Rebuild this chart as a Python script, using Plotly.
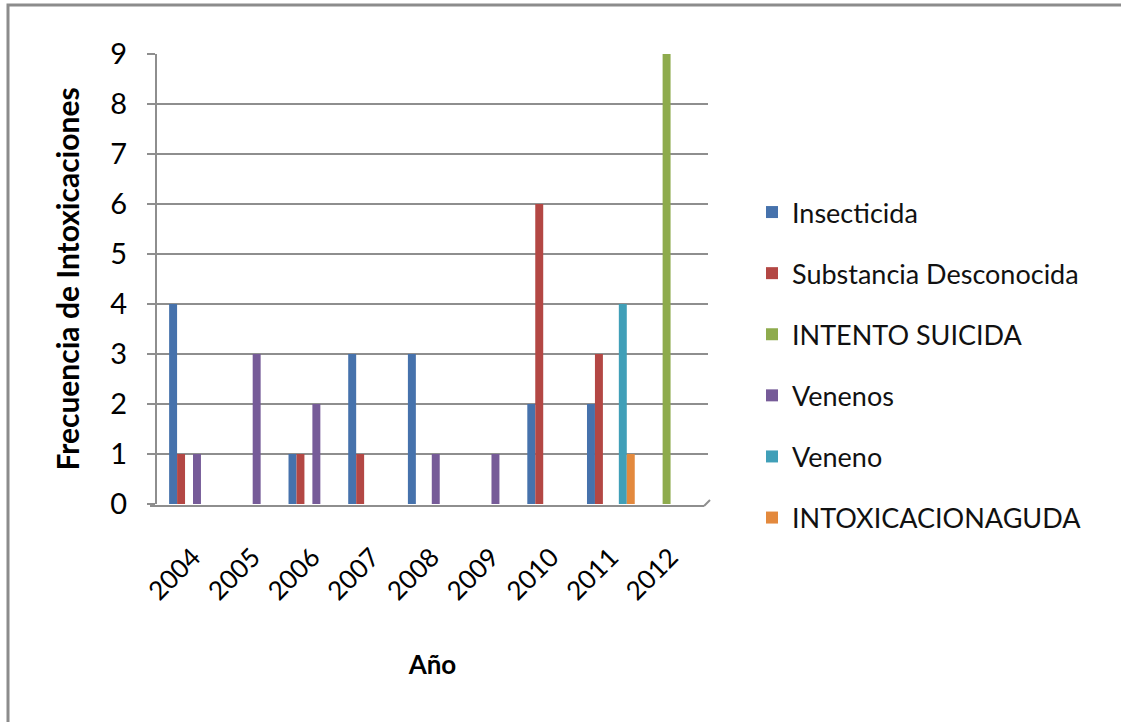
import plotly.graph_objects as go

# Intoxication counts per year, by category
years = ["2004", "2005", "2006", "2007", "2008", "2009", "2010", "2011", "2012"]
insecticida = [4, 0, 1, 3, 3, 0, 2, 2, 0]
substancia_desconocida = [1, 0, 1, 1, 0, 0, 6, 3, 0]
intento_suicida = [0, 0, 0, 0, 0, 0, 0, 0, 9]
venenos = [1, 3, 2, 0, 1, 1, 0, 0, 0]
veneno = [0, 0, 0, 0, 0, 0, 0, 4, 0]
intoxicacion_aguda = [0, 0, 0, 0, 0, 0, 0, 1, 0]

series = [
    ("Insecticida", insecticida, "#4672AC"),
    ("Substancia Desconocida", substancia_desconocida, "#B34744"),
    ("INTENTO SUICIDA", intento_suicida, "#8EAB4D"),
    ("Venenos", venenos, "#765B98"),
    ("Veneno", veneno, "#409FB8"),
    ("INTOXICACIONAGUDA", intoxicacion_aguda, "#E3893D"),
]

W, H = 1121, 722
L, R, T, B = 157, 708, 54, 504  # plot area in pixels
pw, ph = R - L, B - T

def px_x(p):
    return (p - L) / pw

def px_y(p):
    return (B - p) / ph

FONT = "Lato, Open Sans, sans-serif"

fig = go.Figure()
for i, (name, vals, col) in enumerate(series):
    fig.add_trace(go.Bar(
        x=years, y=vals, name=name,
        marker=dict(color=col, line=dict(width=0)),
        legendgroup=str(i),
    ))

fig.update_layout(
    width=W, height=H,
    margin=dict(l=L, r=W - R, t=T, b=H - B, pad=0),
    paper_bgcolor="white", plot_bgcolor="white",
    barmode="group", bargap=0.2, bargroupgap=0,
    font=dict(family=FONT, color="#000000"),
    showlegend=True,
    legend=dict(
        x=px_x(752), y=px_y(188), xanchor="left", yanchor="top",
        font=dict(size=27, family=FONT, color="#111111"),
        tracegroupgap=23, itemwidth=30,
        bgcolor="rgba(0,0,0,0)",
    ),
    xaxis=dict(
        type="category", range=[-0.603, 8.627],
        showgrid=False, showline=False, zeroline=False,
        ticks="", tickangle=-45, ticklabelstandoff=32,
        tickfont=dict(size=26, family=FONT, color="#000000"),
        title=dict(text="<b>Año</b>", font=dict(size=26, family=FONT), standoff=50),
    ),
    yaxis=dict(
        range=[0, 9], dtick=1,
        showgrid=True, gridcolor="#8E8E8E", gridwidth=2,
        showline=True, linecolor="#8E8E8E", linewidth=2,
        ticks="outside", ticklen=8, tickcolor="#8E8E8E", tickwidth=2,
        zeroline=False, ticklabelstandoff=14,
        tickfont=dict(size=29, family=FONT, color="#000000"),
        title=dict(text="<b>Frecuencia de Intoxicaciones</b>",
                   font=dict(size=30, family=FONT), standoff=22),
    ),
    shapes=[
        # outer chart frame
        dict(type="rect", xref="paper", yref="paper",
             x0=px_x(8), x1=px_x(1130), y0=px_y(730), y1=px_y(5),
             line=dict(color="#8C8C8C", width=3), fillcolor="rgba(0,0,0,0)",
             layer="below"),
        # floor of the plot
        dict(type="line", xref="paper", yref="paper",
             x0=px_x(150), x1=px_x(704), y0=px_y(506), y1=px_y(506),
             line=dict(color="#8E8E8E", width=2)),
        dict(type="line", xref="paper", yref="paper",
             x0=px_x(704), x1=px_x(710), y0=px_y(506), y1=px_y(500),
             line=dict(color="#8E8E8E", width=2)),
    ],
)

fig.write_html("out.html")
